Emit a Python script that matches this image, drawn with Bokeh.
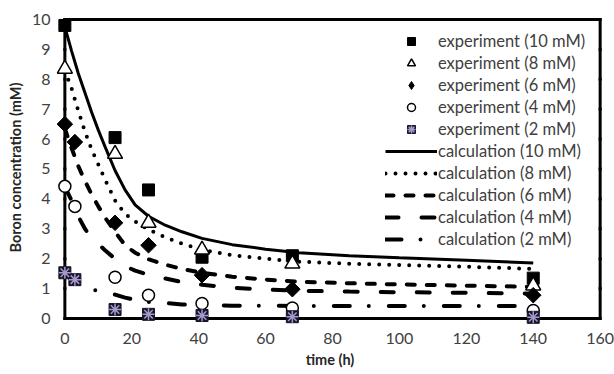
import numpy as np
from bokeh.plotting import figure
from bokeh.models import Range1d, FixedTicker, Legend, LegendItem
from bokeh.embed import file_html
from bokeh.resources import INLINE

# ---------------- data ----------------
exp10_t = [0, 15, 25, 41, 68, 140]
exp10_c = [9.8, 6.05, 4.3, 2.05, 2.1, 1.35]

exp8_t = [0, 15, 25, 41, 68, 140]
exp8_c = [8.35, 5.5, 3.2, 2.3, 1.83, 1.1]

exp6_t = [0, 3, 15, 25, 41, 68, 140]
exp6_c = [6.5, 5.9, 3.2, 2.45, 1.45, 0.98, 0.78]

exp4_t = [0, 3, 15, 25, 41, 68, 140]
exp4_c = [4.42, 3.75, 1.38, 0.78, 0.5, 0.35, 0.27]

exp2_t = [0, 3, 15, 25, 41, 68, 140]
exp2_c = [1.53, 1.3, 0.3, 0.14, 0.1, 0.06, 0.04]

calc_t = [0, 2, 4, 6, 8, 10, 12, 15, 18, 21, 25, 30, 35, 41, 50, 60, 70, 85, 100, 120, 140]
calc10 = [9.75, 8.95, 8.2, 7.55, 6.9, 6.3, 5.75, 4.95, 4.3, 3.8, 3.42, 3.12, 2.9, 2.68, 2.47, 2.32, 2.2, 2.1, 2.03, 1.95, 1.86]
calc8 = [8.3, 7.7, 6.95, 6.25, 5.65, 5.15, 4.65, 3.95, 3.5, 3.25, 2.97, 2.72, 2.5, 2.3, 2.12, 2.0, 1.9, 1.83, 1.79, 1.73, 1.66]
calc6 = [6.35, 5.7, 5.1, 4.6, 4.15, 3.75, 3.38, 2.9, 2.45, 2.2, 1.98, 1.8, 1.66, 1.53, 1.4, 1.3, 1.23, 1.18, 1.14, 1.1, 1.06]
calc4 = [4.4, 3.95, 3.42, 3.0, 2.7, 2.5, 2.28, 2.0, 1.75, 1.6, 1.46, 1.34, 1.22, 1.13, 1.03, 0.97, 0.93, 0.9, 0.88, 0.86, 0.83]
calc2 = [1.5, 1.32, 1.17, 1.07, 0.98, 0.91, 0.86, 0.8, 0.7, 0.62, 0.55, 0.52, 0.47, 0.44, 0.43, 0.43, 0.42, 0.42, 0.42, 0.42, 0.42]

x_ticks = [0, 20, 40, 60, 80, 100, 120, 140, 160]
y_ticks = [0, 1, 2, 3, 4, 5, 6, 7, 8, 9, 10]

labels_exp = ["experiment (10 mM)", "experiment (8 mM)", "experiment (6 mM)",
              "experiment (4 mM)", "experiment (2 mM)"]
labels_calc = ["calculation (10 mM)", "calculation (8 mM)", "calculation (6 mM)",
               "calculation (4 mM)", "calculation (2 mM)"]

# ---------------- figure ----------------
p = figure(width=614, height=374, output_backend="svg", toolbar_location=None,
           x_range=Range1d(-2.5, 161), y_range=Range1d(-0.2, 10.3),
           min_border_left=56, min_border_right=11, min_border_top=10, min_border_bottom=50)
p.outline_line_color = None
p.grid.visible = False
p.background_fill_color = "white"
p.border_fill_color = "white"

# plot-area box (axes frame), built tick-to-tick along the four edges
xa, xb = x_ticks[0], x_ticks[-1]
ya, yb = y_ticks[0], y_ticks[-1]
hx0 = x_ticks[:-1] + x_ticks[:-1]
hx1 = x_ticks[1:] + x_ticks[1:]
hy = [ya] * (len(x_ticks) - 1) + [yb] * (len(x_ticks) - 1)
vy0 = y_ticks[:-1] + y_ticks[:-1]
vy1 = y_ticks[1:] + y_ticks[1:]
vx = [xa] * (len(y_ticks) - 1) + [xb] * (len(y_ticks) - 1)
p.segment(x0=hx0, y0=hy, x1=hx1, y1=hy, line_width=3, line_color="black", line_cap="square")
p.segment(x0=vx, y0=vy0, x1=vx, y1=vy1, line_width=3, line_color="black", line_cap="square")

# calculation lines
r_c10 = p.line(calc_t, calc10, line_width=3, color="black")
r_c8 = p.line(calc_t, calc8, line_width=4, color="black", line_dash="0 10", line_cap="round")
r_c6 = p.line(calc_t, calc6, line_width=4, color="black", line_dash="8 12", line_cap="round")
r_c4 = p.line(calc_t, calc4, line_width=4, color="black", line_dash="13 23", line_cap="round")
r_c2 = p.line(calc_t, calc2, line_width=4, color="black", line_dash="16 19 0 20", line_cap="round")

# experiment markers
r_e10 = p.scatter(exp10_t, exp10_c, marker="square", size=12, fill_color="black", line_color="black")
r_e8 = p.scatter(exp8_t, exp8_c, marker="triangle", size=15, fill_color="white",
                 line_color="black", line_width=1.5)
r_e6 = p.scatter(exp6_t, exp6_c, marker="square", angle=np.pi / 4, size=11,
                 fill_color="black", line_color="black")
r_e4 = p.scatter(exp4_t, exp4_c, marker="circle", size=12, fill_color="white",
                 line_color="black", line_width=1.5)
r_e2a = p.scatter(exp2_t, exp2_c, marker="square", size=12, fill_color="#16162b", line_color="#16162b")
r_e2b = p.scatter(exp2_t, exp2_c, marker="asterisk", size=12, line_color="#a898cc", line_width=1.5)

# hidden proxy so that the legend shows a diamond icon for the 6 mM series
r_e6_leg = p.scatter(exp6_t, exp6_c, marker="diamond", size=16, fill_color="black",
                     line_color="black", visible=False)

items = [
    LegendItem(label=labels_exp[0], renderers=[r_e10]),
    LegendItem(label=labels_exp[1], renderers=[r_e8]),
    LegendItem(label=labels_exp[2], renderers=[r_e6_leg]),
    LegendItem(label=labels_exp[3], renderers=[r_e4]),
    LegendItem(label=labels_exp[4], renderers=[r_e2a, r_e2b]),
    LegendItem(label=labels_calc[0], renderers=[r_c10]),
    LegendItem(label=labels_calc[1], renderers=[r_c8]),
    LegendItem(label=labels_calc[2], renderers=[r_c6]),
    LegendItem(label=labels_calc[3], renderers=[r_c4]),
    LegendItem(label=labels_calc[4], renderers=[r_c2]),
]
legend = Legend(items=items, location=(329, 75), glyph_width=52, glyph_height=20,
                label_height=20, spacing=2, padding=0, margin=0, label_standoff=1,
                label_text_font="Lato", label_text_font_size="16.5px",
                label_text_color="#404040", background_fill_alpha=0,
                border_line_alpha=0, inactive_fill_alpha=0)
p.add_layout(legend)

# axes
p.xaxis.ticker = FixedTicker(ticks=x_ticks)
p.yaxis.ticker = FixedTicker(ticks=y_ticks)
for ax in (p.xaxis[0], p.yaxis[0]):
    ax.axis_line_color = None
    ax.major_tick_line_color = None
    ax.minor_tick_line_color = None
    ax.major_tick_out = 0
    ax.major_tick_in = 0
    ax.minor_tick_out = 0
    ax.minor_tick_in = 0
    ax.major_label_text_font = "Lato"
    ax.major_label_text_font_size = "16px"
    ax.major_label_text_color = "#404040"
    ax.axis_label_text_font = "Lato"
    ax.axis_label_text_font_size = "14.5px"
    ax.axis_label_text_font_style = "bold"
    ax.axis_label_text_color = "#262626"
p.xaxis.major_label_standoff = 8
p.yaxis.major_label_standoff = 6
p.xaxis.axis_label = "time (h)"
p.yaxis.axis_label = "Boron concentration (mM)"
p.xaxis.axis_label_standoff = 4
p.yaxis.axis_label_standoff = 5

open("out.html", "w").write(file_html(p, INLINE))
